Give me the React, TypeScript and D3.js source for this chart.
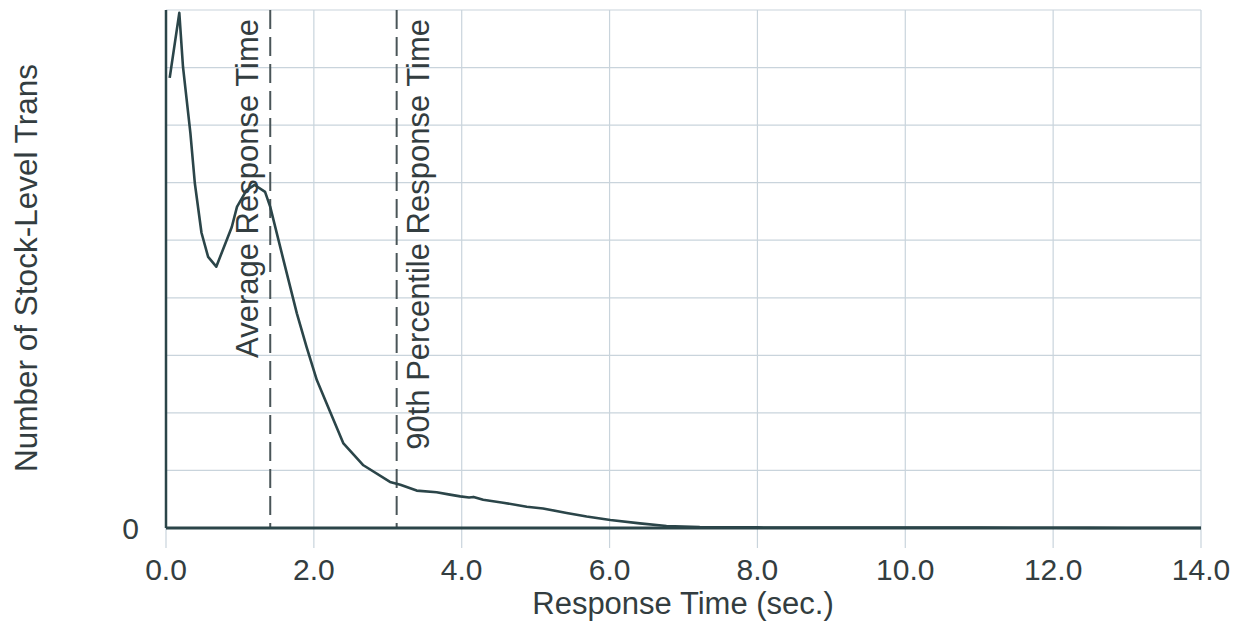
import React from "react";
import * as d3 from "d3";

const respTime = [0.05, 0.18, 0.23, 0.33, 0.39, 0.48, 0.57, 0.68, 0.82, 0.89, 0.96, 1.09, 1.2, 1.34, 1.41, 1.59, 1.77, 1.9, 2.04, 2.17, 2.4, 2.67, 3.03, 3.17, 3.39, 3.66, 3.84, 3.98, 4.1, 4.16, 4.29, 4.56, 4.88, 5.1, 5.42, 5.69, 6.01, 6.41, 6.77, 7.22, 7.6, 8.0, 9.0, 10.0, 11.0, 12.0, 12.5, 13.0, 14.0];
const counts = [7.82, 8.95, 8.01, 6.86, 5.99, 5.13, 4.71, 4.54, 5.0, 5.23, 5.58, 5.87, 5.96, 5.84, 5.58, 4.65, 3.73, 3.15, 2.57, 2.17, 1.47, 1.09, 0.8, 0.75, 0.65, 0.62, 0.58, 0.55, 0.53, 0.54, 0.49, 0.44, 0.37, 0.34, 0.26, 0.2, 0.14, 0.08, 0.035, 0.015, 0.01, 0.01, 0.008, 0.008, 0.006, 0.004, 0.002, 0, 0];
const xTicks = [0, 2, 4, 6, 8, 10, 12, 14];
const yGrid = [0, 1, 2, 3, 4, 5, 6, 7, 8, 9];
const avgResponse = 1.41;
const p90Response = 3.12;

const W = 1245;
const H = 627;
const FONT = "'Liberation Sans', Arial, Helvetica, sans-serif";
const TEXT = "#333d40";
const LINE = "#2b4549";
const GRID = "#c9d4dc";

export default function App() {
  const x = d3.scaleLinear().domain([0, 14]).range([166, 1201]);
  const y = d3.scaleLinear().domain([0, 9]).range([528, 10]);
  const pts = respTime.map((t, i) => [t, counts[i]] as [number, number]);
  const line = d3
    .line<[number, number]>()
    .x((d) => x(d[0]))
    .y((d) => y(d[1]))
    .curve(d3.curveLinear);

  return (
    <svg
      width={W}
      height={H}
      style={{ position: "absolute", left: 0, top: 0, background: "#fff" }}
      fontFamily={FONT}
    >
      <rect width={W} height={H} fill="#fff" />
      {yGrid.map((g) => (
        <line key={"h" + g} x1={x(0)} x2={x(14)} y1={y(g)} y2={y(g)} stroke={GRID} strokeWidth={1.2} />
      ))}
      {xTicks.map((t) => (
        <line key={"v" + t} x1={x(t)} x2={x(t)} y1={y(9)} y2={548} stroke={GRID} strokeWidth={1.2} />
      ))}
      {[avgResponse, p90Response].map((v) => (
        <line key={"d" + v} x1={x(v)} x2={x(v)} y1={y(9)} y2={y(0)} stroke="#4a5558" strokeWidth={2} strokeDasharray="19,8" />
      ))}
      <line x1={x(0)} x2={x(0)} y1={y(9)} y2={y(0)} stroke={LINE} strokeWidth={2.5} />
      <line x1={x(0)} x2={x(14)} y1={y(0)} y2={y(0)} stroke={LINE} strokeWidth={3} />
      <path d={line(pts) || ""} fill="none" stroke={LINE} strokeWidth={2.6} strokeLinejoin="round" />
      {xTicks.map((t) => (
        <text key={"xt" + t} x={x(t)} y={580} textAnchor="middle" fontSize={30} fill={TEXT}>
          {t.toFixed(1)}
        </text>
      ))}
      <text x={139} y={539} textAnchor="end" fontSize={30} fill={TEXT}>0</text>
      <text x={683} y={614} textAnchor="middle" fontSize={31} fill={TEXT}>Response Time (sec.)</text>
      <text transform={`translate(37,268) rotate(-90)`} textAnchor="middle" fontSize={31.5} fill={TEXT}>
        Number of Stock-Level Trans
      </text>
      <text transform={`translate(258,19) rotate(-90)`} textAnchor="end" fontSize={31} fill={TEXT}>
        Average Response Time
      </text>
      <text transform={`translate(429,19) rotate(-90)`} textAnchor="end" fontSize={31} fill={TEXT}>
        90th Percentile Response Time
      </text>
    </svg>
  );
}
